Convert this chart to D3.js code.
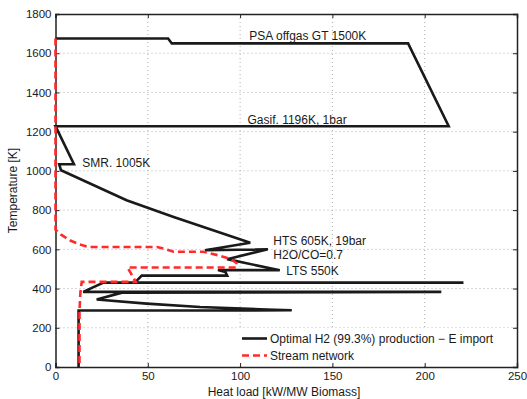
<!DOCTYPE html>
<html>
<head>
<meta charset="utf-8">
<script src="https://d3js.org/d3.v7.min.js"></script>
<style>
  body { margin: 0; background: #fff; }
  text { font-family: "Liberation Sans", Arial, sans-serif; fill: #1a1a1a; }
</style>
</head>
<body>
<div id="chart"></div>
<script>
// axis ticks
var xTicks = [0, 50, 100, 150, 200, 250];
var yTicks = [0, 200, 400, 600, 800, 1000, 1200, 1400, 1600, 1800];

// optimal H2 production composite curve (heat load, temperature)
var optHeat = [0, 61, 63, 191, 213, 0, 10, 2, 3, 38.5, 64, 105.5, 81, 115, 93, 121.5, 88, 92, 93, 46.7, 43, 221, 26, 15, 209, 36, 22.3, 49.4, 78.3, 114.4, 128, 12.5, 12.5];
var optTemp = [1675, 1675, 1650, 1650, 1228, 1228, 1034, 1034, 1003, 850, 765, 634, 595, 600, 550, 493, 495, 485, 466, 466, 430, 430, 430, 383, 383, 379, 344, 323, 306, 293, 289, 288, 0];

// stream network curve
var netHeat = [0, 0, 3, 8, 13, 18, 55, 60, 64, 80, 88, 95, 98, 98, 39, 43.5, 14.2, 13.5, 13, 13];
var netTemp = [1675, 700, 675, 645, 625, 612, 612, 600, 588, 588, 570, 550, 530, 507, 507, 434, 434, 380, 290, 0];

// annotations
var notes = [
  {text: "PSA offgas GT 1500K", heat: 105, temp: 1690},
  {text: "Gasif. 1196K, 1bar", heat: 104, temp: 1263},
  {text: "SMR. 1005K", heat: 14.5, temp: 1040},
  {text: "HTS 605K, 19bar", heat: 118, temp: 644},
  {text: "H2O/CO=0.7", heat: 118, temp: 572},
  {text: "LTS 550K", heat: 125, temp: 493}
];

var legendNames = ["Optimal H2 (99.3%) production \u2212 E import", "Stream network"];

var W = 527, H = 399;

var svg = d3.select("#chart").append("svg")
  .attr("width", W).attr("height", H);

var x = d3.scaleLinear().domain([0, 250]).range([55.5, 517]);
var y = d3.scaleLinear().domain([0, 1800]).range([367, 14]);

// grid
svg.append("g").selectAll("line").data(xTicks.slice(1, -1)).enter().append("line")
  .attr("x1", d => x(d)).attr("x2", d => x(d))
  .attr("y1", y(0)).attr("y2", y(1800))
  .attr("stroke", "#999").attr("stroke-width", 0.8).attr("stroke-dasharray", "1,3");
svg.append("g").selectAll("line").data(yTicks.slice(1, -1)).enter().append("line")
  .attr("y1", d => y(d)).attr("y2", d => y(d))
  .attr("x1", x(0)).attr("x2", x(250))
  .attr("stroke", "#999").attr("stroke-width", 0.8).attr("stroke-dasharray", "1,3");

// legend background
svg.append("rect")
  .attr("x", 236).attr("y", 328).attr("width", x(250) - 237).attr("height", y(0) - 329)
  .attr("fill", "#fff");

// axes with inward ticks
var axBottom = svg.append("g").attr("transform", "translate(0," + y(0) + ")")
  .call(d3.axisBottom(x).tickValues(xTicks).tickSize(-4).tickPadding(5).tickFormat(d3.format("d")));
var axLeft = svg.append("g").attr("transform", "translate(" + x(0) + ",0)")
  .call(d3.axisLeft(y).tickValues(yTicks).tickSize(-4).tickPadding(4).tickFormat(d3.format("d")));
var axTop = svg.append("g").attr("transform", "translate(0," + y(1800) + ")")
  .call(d3.axisTop(x).tickValues(xTicks).tickSize(-4).tickFormat(""));
var axRight = svg.append("g").attr("transform", "translate(" + x(250) + ",0)")
  .call(d3.axisRight(y).tickValues(yTicks).tickSize(-4).tickFormat(""));

[axBottom, axLeft, axTop, axRight].forEach(function(g) {
  g.selectAll("path").attr("stroke", "#222").attr("stroke-width", 1.5);
  g.selectAll("line").attr("stroke", "#222").attr("stroke-width", 1);
  g.selectAll("text").style("font-size", "11.5px").style("font-family", "Liberation Sans, Arial, sans-serif").attr("fill", "#1a1a1a");
});

var line = d3.line().x(d => x(d[0])).y(d => y(d[1]));

svg.append("path")
  .datum(d3.zip(optHeat, optTemp))
  .attr("d", line)
  .attr("fill", "none").attr("stroke", "#1a1a1a").attr("stroke-width", 2.6)
  .attr("stroke-linejoin", "miter");

svg.append("path")
  .datum(d3.zip(netHeat, netTemp))
  .attr("d", line)
  .attr("fill", "none").attr("stroke", "#ff2b2b").attr("stroke-width", 2.6)
  .attr("stroke-dasharray", "7,4");

// annotations
svg.selectAll(".note").data(notes).enter().append("text")
  .attr("class", "note")
  .attr("x", d => x(d.heat)).attr("y", d => y(d.temp))
  .attr("dy", "0.35em")
  .style("font-size", "12px")
  .text(d => d.text);

// legend
var leg = svg.append("g");
leg.selectAll("line").data(legendNames).enter().append("line")
  .attr("x1", 242).attr("x2", 267)
  .attr("y1", (d, i) => 338.5 + i * 17).attr("y2", (d, i) => 338.5 + i * 17)
  .attr("stroke", (d, i) => i === 0 ? "#1a1a1a" : "#ff2b2b")
  .attr("stroke-width", 2.6)
  .attr("stroke-dasharray", (d, i) => i === 0 ? null : "7,4");
leg.selectAll("text").data(legendNames).enter().append("text")
  .attr("x", 270).attr("y", (d, i) => 338.5 + i * 17)
  .attr("dy", "0.35em")
  .style("font-size", "12px")
  .text(d => d);

// axis titles
svg.append("text")
  .attr("x", 284).attr("y", 395.5)
  .attr("text-anchor", "middle")
  .style("font-size", "12px")
  .text("Heat load [kW/MW Biomass]");
svg.append("text")
  .attr("transform", "translate(17," + ((y(0) + y(1800)) / 2) + ") rotate(-90)")
  .attr("text-anchor", "middle")
  .style("font-size", "12px")
  .text("Temperature [K]");
</script>
</body>
</html>
